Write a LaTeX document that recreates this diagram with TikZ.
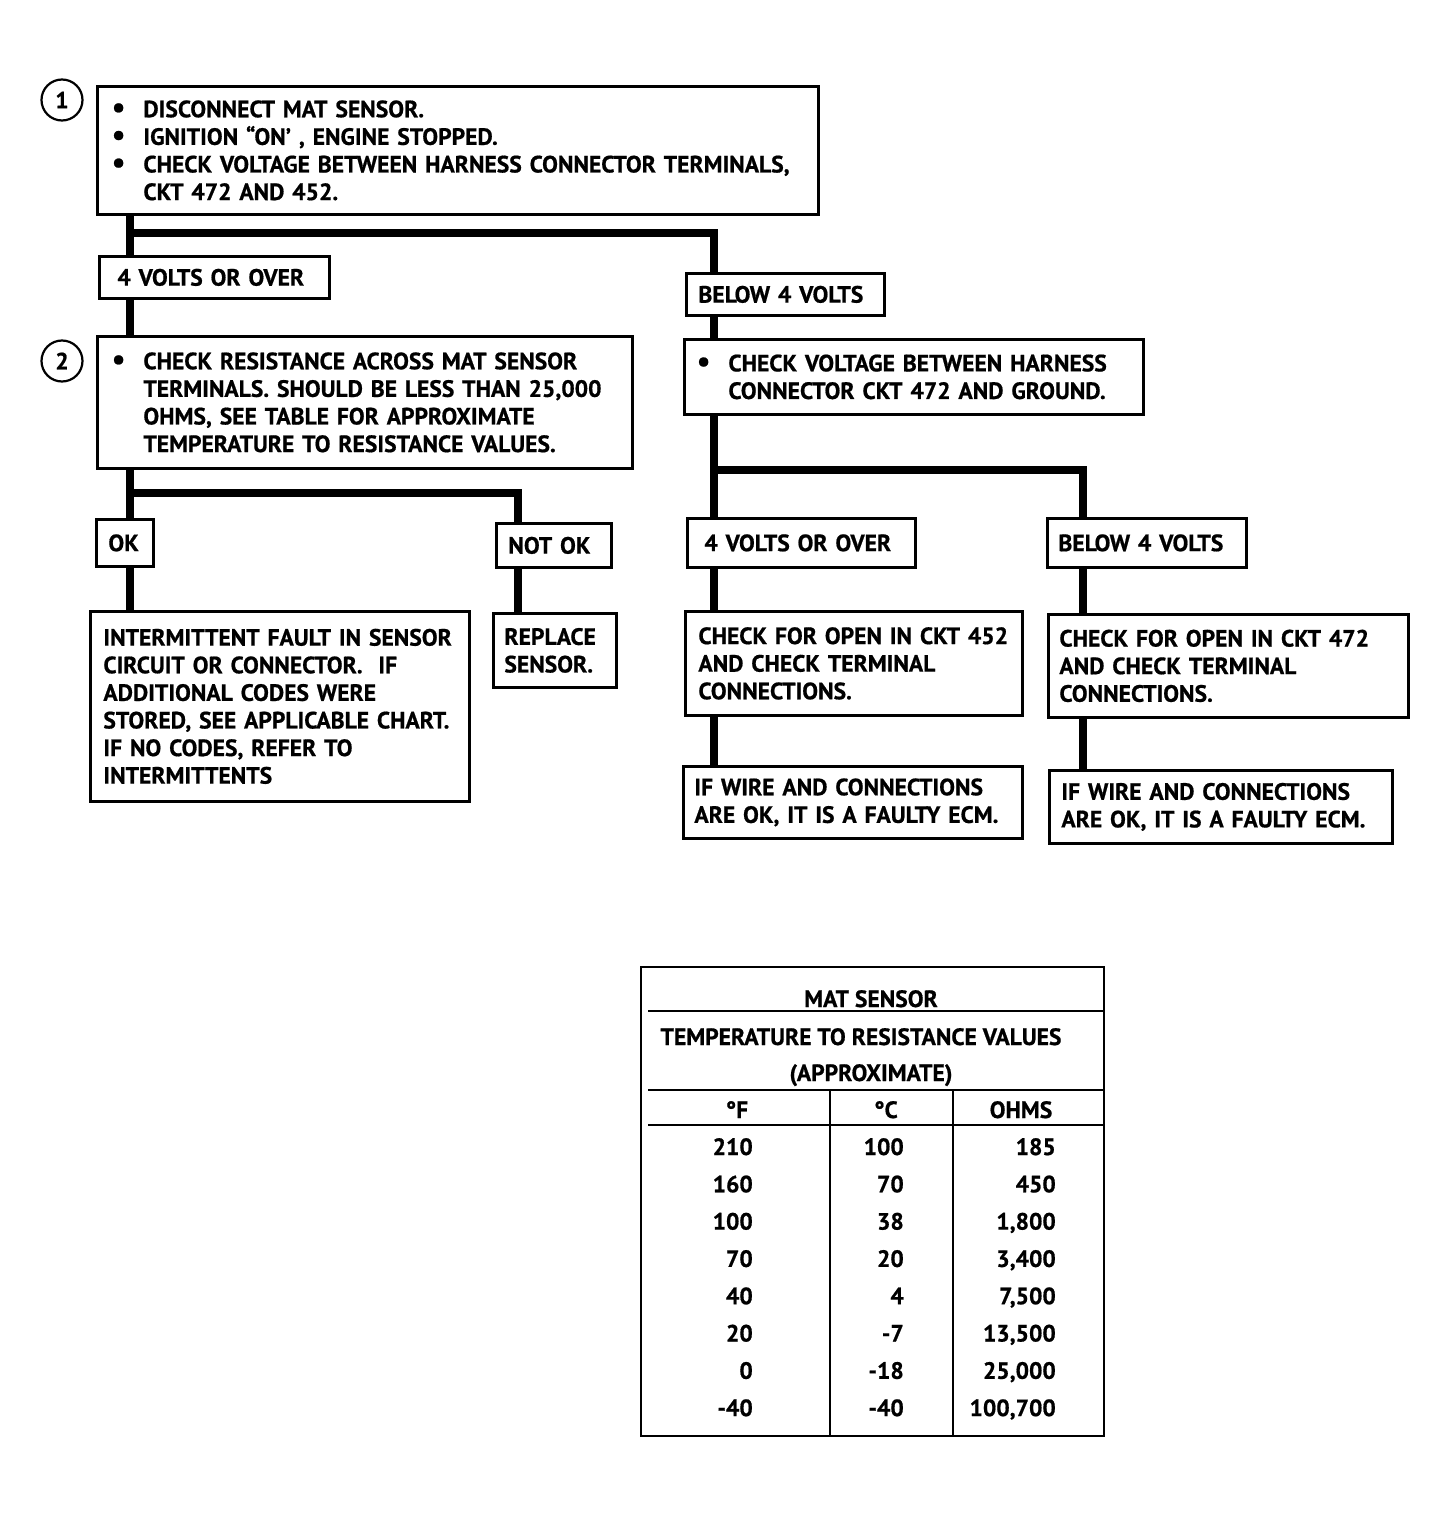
\documentclass[tikz,border=0pt]{standalone}
\usepackage{fontspec}
\setmainfont{PT Sans}[BoldFeatures={FakeBold=0.7}]
\usepackage{tikz}
\usetikzlibrary{calc}
\newcommand{\txt}{\fontsize{23.6}{27.6}\selectfont\bfseries}
\newcommand{\blt}{\leavevmode\llap{{\fontsize{30}{27.6}\selectfont •}\hspace{18pt}}}
\tikzset{
  box/.style={draw, line width=2.8pt, anchor=north west, inner xsep=0pt, inner ysep=0pt, align=left, font=\txt},
  pad/.style={execute at begin node={\leftskip=#1pt\relax}},
  conn/.style={line width=7.5pt},
  num/.style={draw, circle, line width=2.2pt, minimum size=41pt, inner sep=0pt, font=\txt},
  cell/.style={font=\txt, inner sep=0pt, text height=16pt, text depth=0pt},
  rule/.style={line width=2.8pt}
}
\begin{document}
\begin{tikzpicture}[x=1pt, y=-1pt]
  \path[use as bounding box, fill=white] (0,0) rectangle (1446,1514);
  % step numbers
  \node[num] (n1) at (62,100) {1};
  \node[num] (n2) at (62,361) {2};
  % left branch
  \node[box, pad=46, text width=721pt, minimum height=128pt] (s1) at (96,85)
    {\blt DISCONNECT MAT SENSOR.\\ \blt IGNITION “ON’ , ENGINE STOPPED.\\ \blt CHECK VOLTAGE BETWEEN HARNESS CONNECTOR TERMINALS,\\ CKT 472 AND 452.};
  \node[box, pad=18, text width=230pt, minimum height=42pt] (v1a) at (98,255) {4 VOLTS OR OVER};
  \node[box, pad=46, text width=535pt, minimum height=132pt] (s2) at (96,335)
    {\blt CHECK RESISTANCE ACROSS MAT SENSOR\\ TERMINALS. SHOULD BE LESS THAN 25,000\\ OHMS, SEE TABLE FOR APPROXIMATE\\ TEMPERATURE TO RESISTANCE VALUES.};
  \node[box, pad=12, text width=57pt, minimum height=47pt] (ok) at (95,518) {OK};
  \node[box, pad=12, text width=115pt, minimum height=44pt] (nok) at (495,522) {NOT OK};
  \node[box, pad=13, text width=379pt, minimum height=190pt] (im) at (89,610)
    {INTERMITTENT FAULT IN SENSOR\\ CIRCUIT OR CONNECTOR.~ IF\\ ADDITIONAL CODES WERE\\ STORED, SEE APPLICABLE CHART.\\ IF NO CODES, REFER TO\\ INTERMITTENTS};
  \node[box, pad=11, text width=123pt, minimum height=74pt] (rep) at (492,612) {REPLACE\\ SENSOR.};
  % right branch
  \node[box, pad=12, text width=198pt, minimum height=42pt] (b1a) at (685,272) {BELOW 4 VOLTS};
  \node[box, pad=44, text width=459pt, minimum height=75pt] (r1) at (683,338)
    {\blt CHECK VOLTAGE BETWEEN HARNESS\\ CONNECTOR CKT 472 AND GROUND.};
  \node[box, pad=17, text width=228pt, minimum height=49pt] (v2a) at (686,517) {4 VOLTS OR OVER};
  \node[box, pad=11, text width=199pt, minimum height=49pt] (b2a) at (1046,517) {BELOW 4 VOLTS};
  \node[box, pad=13, text width=337pt, minimum height=104pt] (c452) at (684,610)
    {CHECK FOR OPEN IN CKT 452\\ AND CHECK TERMINAL\\ CONNECTIONS.};
  \node[box, pad=11, text width=360pt, minimum height=103pt] (c472) at (1047,613)
    {CHECK FOR OPEN IN CKT 472\\ AND CHECK TERMINAL\\ CONNECTIONS.};
  \node[box, pad=11, text width=339pt, minimum height=72pt] (w1) at (682,765)
    {IF WIRE AND CONNECTIONS\\ ARE OK, IT IS A FAULTY ECM.};
  \node[box, pad=12, text width=343pt, minimum height=73pt] (w2) at (1048,769)
    {IF WIRE AND CONNECTIONS\\ ARE OK, IT IS A FAULTY ECM.};
  % connector lines
  \coordinate (xl) at (130,0);
  \coordinate (xn) at (518,0);
  \coordinate (xr) at (714,0);
  \coordinate (xrr) at (1083,0);
  \coordinate (j1) at (130,233);
  \coordinate (j2) at (130,493);
  \coordinate (j3) at (714,470);
  \draw[conn] (xl |- s1.south) -- (xl |- v1a.north);
  \draw[conn] (j1) -| (xr |- b1a.north);
  \draw[conn] (xl |- v1a.south) -- (xl |- s2.north);
  \draw[conn] (xl |- s2.south) -- (xl |- ok.north);
  \draw[conn] (j2) -| (xn |- nok.north);
  \draw[conn] (xl |- ok.south) -- (xl |- im.north);
  \draw[conn] (xn |- nok.south) -- (xn |- rep.north);
  \draw[conn] (xr |- b1a.south) -- (xr |- r1.north);
  \draw[conn] (xr |- r1.south) -- (xr |- v2a.north);
  \draw[conn] (j3) -| (xrr |- b2a.north);
  \draw[conn] (xr |- v2a.south) -- (xr |- c452.north);
  \draw[conn] (xrr |- b2a.south) -- (xrr |- c472.north);
  \draw[conn] (xr |- c452.south) -- (xr |- w1.north);
  \draw[conn] (xrr |- c472.south) -- (xrr |- w2.north);
  % table
  \draw[rule] (641,967) rectangle (1104,1436);
  \draw[rule] (648,1011) -- (1104,1011);
  \draw[rule] (648,1090) -- (1104,1090);
  \draw[rule] (648,1125) -- (1104,1125);
  \draw[rule] (830,1090) -- (830,1436);
  \draw[rule] (953,1090) -- (953,1436);
  \node[cell] (tt) at (871,999) {MAT SENSOR};
  \node[cell] (tr) at (861,1037) {TEMPERATURE TO RESISTANCE VALUES};
  \node[cell] (ta) at (871,1073) {(APPROXIMATE)};
  \node[cell] (hf) at (737,1110) {°F};
  \node[cell] (hc) at (886,1110) {°C};
  \node[cell] (ho) at (1021,1110) {OHMS};
  \foreach \f/\c/\o [count=\i] in {210/100/185, 160/70/450, 100/38/{1,800}, 70/20/{3,400},
      40/4/{7,500}, 20/-7/{13,500}, 0/-18/{25,000}, -40/-40/{100,700}} {
    \node[cell, anchor=east] (f\i) at (753,{1147+37.3*(\i-1)}) {\f};
    \node[cell, anchor=east] (c\i) at (904,{1147+37.3*(\i-1)}) {\c};
    \node[cell, anchor=east] (o\i) at (1056,{1147+37.3*(\i-1)}) {\o};
  }
\end{tikzpicture}
\end{document}
